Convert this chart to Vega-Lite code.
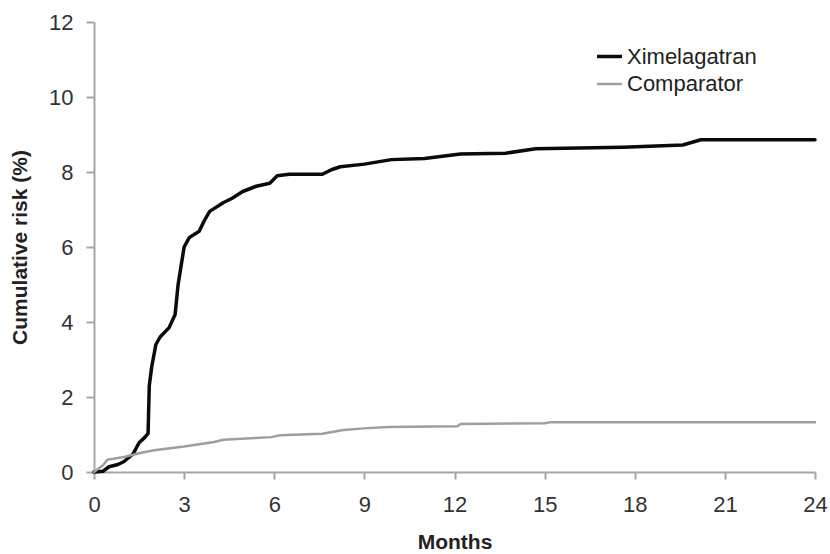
{
  "$schema": "https://vega.github.io/schema/vega-lite/v6.json",
  "width": 721,
  "height": 450,
  "autosize": "none",
  "padding": {"left": 94, "top": 22, "right": 15, "bottom": 82},
  "background": "white",
  "config": {
    "view": {"stroke": null},
    "font": "Liberation Sans",
    "axis": {
      "grid": false,
      "domainColor": "#a6a6a6",
      "tickColor": "#a6a6a6",
      "domainWidth": 2,
      "tickWidth": 2,
      "labelFont": "Liberation Sans",
      "labelFontSize": 22,
      "labelColor": "#333333",
      "titleFont": "Liberation Sans",
      "titleFontSize": 21,
      "titleFontWeight": "bold",
      "titleColor": "#222222"
    }
  },
  "data": {
    "values": [
      {"month": 0, "risk": 0, "series": "Ximelagatran"},
      {"month": 0.3, "risk": 0.02, "series": "Ximelagatran"},
      {"month": 0.5, "risk": 0.14, "series": "Ximelagatran"},
      {"month": 0.8, "risk": 0.2, "series": "Ximelagatran"},
      {"month": 1.0, "risk": 0.28, "series": "Ximelagatran"},
      {"month": 1.3, "risk": 0.48, "series": "Ximelagatran"},
      {"month": 1.5, "risk": 0.78, "series": "Ximelagatran"},
      {"month": 1.7, "risk": 0.93, "series": "Ximelagatran"},
      {"month": 1.8, "risk": 1.03, "series": "Ximelagatran"},
      {"month": 1.84, "risk": 2.3, "series": "Ximelagatran"},
      {"month": 1.92, "risk": 2.8, "series": "Ximelagatran"},
      {"month": 2.06, "risk": 3.4, "series": "Ximelagatran"},
      {"month": 2.2, "risk": 3.6, "series": "Ximelagatran"},
      {"month": 2.5, "risk": 3.85, "series": "Ximelagatran"},
      {"month": 2.7, "risk": 4.2, "series": "Ximelagatran"},
      {"month": 2.75, "risk": 4.6, "series": "Ximelagatran"},
      {"month": 2.8, "risk": 5.0, "series": "Ximelagatran"},
      {"month": 2.9, "risk": 5.5, "series": "Ximelagatran"},
      {"month": 3.0, "risk": 6.0, "series": "Ximelagatran"},
      {"month": 3.17, "risk": 6.25, "series": "Ximelagatran"},
      {"month": 3.5, "risk": 6.42, "series": "Ximelagatran"},
      {"month": 3.67, "risk": 6.7, "series": "Ximelagatran"},
      {"month": 3.85, "risk": 6.95, "series": "Ximelagatran"},
      {"month": 4.3, "risk": 7.18, "series": "Ximelagatran"},
      {"month": 4.6, "risk": 7.3, "series": "Ximelagatran"},
      {"month": 4.95, "risk": 7.48, "series": "Ximelagatran"},
      {"month": 5.4, "risk": 7.62, "series": "Ximelagatran"},
      {"month": 5.85, "risk": 7.7, "series": "Ximelagatran"},
      {"month": 6.1, "risk": 7.9, "series": "Ximelagatran"},
      {"month": 6.5, "risk": 7.94, "series": "Ximelagatran"},
      {"month": 7.6, "risk": 7.94, "series": "Ximelagatran"},
      {"month": 7.9, "risk": 8.06, "series": "Ximelagatran"},
      {"month": 8.2, "risk": 8.14, "series": "Ximelagatran"},
      {"month": 9.0, "risk": 8.21, "series": "Ximelagatran"},
      {"month": 9.9, "risk": 8.33, "series": "Ximelagatran"},
      {"month": 11.0, "risk": 8.36, "series": "Ximelagatran"},
      {"month": 12.2, "risk": 8.48, "series": "Ximelagatran"},
      {"month": 13.7, "risk": 8.5, "series": "Ximelagatran"},
      {"month": 14.7, "risk": 8.62, "series": "Ximelagatran"},
      {"month": 17.6, "risk": 8.66, "series": "Ximelagatran"},
      {"month": 19.6, "risk": 8.72, "series": "Ximelagatran"},
      {"month": 20.2, "risk": 8.86, "series": "Ximelagatran"},
      {"month": 24, "risk": 8.86, "series": "Ximelagatran"},
      {"month": 0, "risk": 0, "series": "Comparator"},
      {"month": 0.3, "risk": 0.18, "series": "Comparator"},
      {"month": 0.45, "risk": 0.33, "series": "Comparator"},
      {"month": 0.7, "risk": 0.36, "series": "Comparator"},
      {"month": 1.0, "risk": 0.4, "series": "Comparator"},
      {"month": 1.5, "risk": 0.5, "series": "Comparator"},
      {"month": 2.0, "risk": 0.58, "series": "Comparator"},
      {"month": 3.0, "risk": 0.68, "series": "Comparator"},
      {"month": 4.0, "risk": 0.8, "series": "Comparator"},
      {"month": 4.3, "risk": 0.86, "series": "Comparator"},
      {"month": 5.9, "risk": 0.93, "series": "Comparator"},
      {"month": 6.2, "risk": 0.98, "series": "Comparator"},
      {"month": 7.6, "risk": 1.02, "series": "Comparator"},
      {"month": 8.3, "risk": 1.12, "series": "Comparator"},
      {"month": 9.1, "risk": 1.17, "series": "Comparator"},
      {"month": 9.8, "risk": 1.2, "series": "Comparator"},
      {"month": 12.1, "risk": 1.22, "series": "Comparator"},
      {"month": 12.2, "risk": 1.28, "series": "Comparator"},
      {"month": 15.0, "risk": 1.3, "series": "Comparator"},
      {"month": 15.2, "risk": 1.33, "series": "Comparator"},
      {"month": 24, "risk": 1.33, "series": "Comparator"}
    ]
  },
  "mark": {"type": "line", "strokeJoin": "round", "strokeCap": "round"},
  "encoding": {
    "x": {
      "field": "month", "type": "quantitative",
      "scale": {"domain": [0, 24], "nice": false, "zero": false},
      "axis": {"values": [0, 3, 6, 9, 12, 15, 18, 21, 24], "title": "Months", "tickSize": 7, "labelPadding": 15, "titleY": 70, "titleBaseline": "middle", "labelFlush": false}
    },
    "y": {
      "field": "risk", "type": "quantitative",
      "scale": {"domain": [0, 12], "nice": false},
      "axis": {"values": [0, 2, 4, 6, 8, 10, 12], "title": "Cumulative risk (%)", "tickSize": 8, "labelPadding": 13, "titleX": -74, "titleBaseline": "middle", "labelFlush": false}
    },
    "color": {
      "field": "series", "type": "nominal",
      "scale": {"domain": ["Ximelagatran", "Comparator"], "range": ["#0a0a0a", "#9e9e9e"]},
      "legend": {
        "title": null, "orient": "none", "legendX": 501, "legendY": 20,
        "symbolType": "stroke", "symbolSize": 625, "labelFontSize": 22,
        "labelFont": "Liberation Sans", "labelColor": "#222222", "labelOffset": 3,
        "rowPadding": 2, "padding": 0
      }
    },
    "strokeWidth": {
      "field": "series", "type": "nominal",
      "scale": {"domain": ["Ximelagatran", "Comparator"], "range": [3.5, 2.5]},
      "legend": {
        "title": null, "orient": "none", "legendX": 501, "legendY": 20,
        "symbolType": "stroke", "symbolSize": 625, "labelFontSize": 22,
        "labelFont": "Liberation Sans", "labelColor": "#222222", "labelOffset": 3,
        "rowPadding": 2, "padding": 0
      }
    }
  }
}
